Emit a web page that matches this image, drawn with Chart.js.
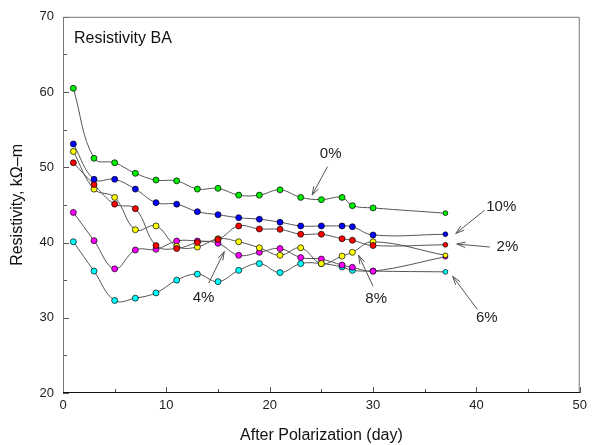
<!DOCTYPE html>
<html>
<head>
<meta charset="utf-8">
<script src="https://cdn.jsdelivr.net/npm/chart.js@4.4.0/dist/chart.umd.min.js"></script>
<style>
body{margin:0;background:#fff;}
#wrap{width:592px;height:445px;}
</style>
</head>
<body>
<div id="wrap"><canvas id="chart" width="592" height="445"></canvas></div>
<script>
// days after polarization
const days = [1,3,5,7,9,11,13,15,17,19,21,23,25,27,28,30,37];

// resistivity, kOhm-m, per mix
const pct0  = [60.5,51.2,50.6,49.2,48.3,48.2,47.1,47.2,46.3,46.3,47.0,46.0,45.7,46.0,44.9,44.6,43.9];
const pct2  = [50.6,47.7,45.1,44.5,39.6,39.2,40.0,40.4,42.2,41.8,41.75,41.1,41.1,40.5,40.3,39.6,39.7];
const pct4  = [44.0,40.25,36.5,39.0,39.1,40.2,40.2,39.9,38.3,38.7,39.2,38.0,37.8,37.0,36.7,36.2,38.1];
const pct6  = [40.1,36.2,32.3,32.6,33.3,35.0,35.8,34.8,36.3,37.2,36.0,37.2,37.2,36.75,36.3,36.2,36.1];
const pct8  = [52.1,47.1,46.0,41.7,42.2,39.5,39.4,40.5,40.1,39.3,38.3,39.3,37.2,38.2,38.7,40.1,38.3];
const pct10 = [53.1,48.4,48.4,47.1,45.3,45.1,44.1,43.7,43.3,43.1,42.7,42.2,42.2,42.2,42.1,41.0,41.1];

const xTicks = [0,10,20,30,40,50];
const yTicks = [20,30,40,50,60,70];

// callout labels: text position and arrow (from -> to), in data units
const callouts = [
    {text:"0%",  tx:25.9, ty:51.8, x1:25.6, y1:50.1, x2:24.1, y2:46.3},
    {text:"10%", tx:42.4, ty:44.7, x1:40.8, y1:44.3, x2:38.0, y2:41.2},
    {text:"2%",  tx:43.0, ty:39.4, x1:41.3, y1:39.4, x2:38.1, y2:39.8},
    {text:"6%",  tx:41.0, ty:30.0, x1:40.1, y1:31.1, x2:37.7, y2:35.5},
    {text:"4%",  tx:13.6, ty:32.7, x1:14.1, y1:34.6, x2:15.6, y2:38.8},
    {text:"8%",  tx:30.3, ty:32.5, x1:30.0, y1:34.2, x2:28.6, y2:38.3}
];

function series(values, color){
    return {
        data: days.map((d,i)=>({x:d, y:values[i]})),
        borderColor: "#555",
        borderWidth: 1,
        backgroundColor: color,
        pointBackgroundColor: color,
        pointBorderColor: "#000",
        pointBorderWidth: 0.7,
        pointRadius: ctx => ctx.dataIndex === days.length-1 ? 2.4 : 3.0,
        tension: 0.4,
        fill: false
    };
}

const innerTicks = {
    id: "innerTicks",
    afterDraw(chart){
        const c = chart.ctx;
        const xs = chart.scales.x, ys = chart.scales.y;
        const a = chart.chartArea;
        c.save();
        c.lineWidth = 1;
        c.strokeStyle = "#555";
        for(let v=0; v<=50; v+=5){
            const px = Math.round(xs.getPixelForValue(v))+0.5;
            const len = v%10===0 ? 6 : 4;
            c.beginPath(); c.moveTo(px,a.bottom); c.lineTo(px,a.bottom-len); c.stroke();
        }
        for(let v=20; v<=70; v+=5){
            const py = Math.round(ys.getPixelForValue(v))+0.5;
            const len = v%10===0 ? 6 : 4;
            c.beginPath(); c.moveTo(a.left,py); c.lineTo(a.left+len,py); c.stroke();
        }
        // frame
        c.strokeStyle = "#777";
        c.beginPath();
        c.moveTo(a.left+0.5,a.bottom); c.lineTo(a.left+0.5,a.top+0.5);
        c.lineTo(a.right-0.5,a.top+0.5); c.lineTo(a.right-0.5,a.bottom);
        c.stroke();
        c.strokeStyle = "#111";
        c.beginPath(); c.moveTo(a.left,a.bottom-0.5); c.lineTo(a.right,a.bottom-0.5); c.stroke();

        c.fillStyle = "#111";
        c.font = "16px 'Liberation Sans', Arial, sans-serif";
        c.textAlign = "left";
        c.textBaseline = "alphabetic";
        c.fillText("Resistivity BA", a.left+11, a.top+26);
        c.restore();
    }
};

const calloutPlugin = {
    id: "callouts",
    afterDatasetsDraw(chart){
        const c = chart.ctx;
        const xs = chart.scales.x, ys = chart.scales.y;
        c.save();
        c.font = "15px 'Liberation Sans', Arial, sans-serif";
        c.textAlign = "center";
        c.textBaseline = "middle";
        callouts.forEach(k => {
            c.fillStyle = "#222";
            c.fillText(k.text, xs.getPixelForValue(k.tx), ys.getPixelForValue(k.ty));
            const x1 = xs.getPixelForValue(k.x1), y1 = ys.getPixelForValue(k.y1);
            const x2 = xs.getPixelForValue(k.x2), y2 = ys.getPixelForValue(k.y2);
            c.strokeStyle = "#555";
            c.lineWidth = 1;
            c.beginPath(); c.moveTo(x1,y1); c.lineTo(x2,y2); c.stroke();
            const ang = Math.atan2(y2-y1, x2-x1);
            const h = 9, w = 0.3;
            c.beginPath();
            c.moveTo(x2 - h*Math.cos(ang-w), y2 - h*Math.sin(ang-w));
            c.lineTo(x2,y2);
            c.lineTo(x2 - h*Math.cos(ang+w), y2 - h*Math.sin(ang+w));
            c.stroke();
        });
        c.restore();
    }
};

new Chart(document.getElementById("chart"), {
    type: "line",
    data: {
        datasets: [
            series(pct0,  "#00ee00"),
            series(pct10, "#0000ff"),
            series(pct2,  "#ff0000"),
            series(pct8,  "#ffff00"),
            series(pct4,  "#ff00ff"),
            series(pct6,  "#00ffff")
        ]
    },
    options: {
        responsive: false,
        animation: false,
        events: [],
        layout: { padding: { top: 16, right: 12, left: 0, bottom: 0 } },
        plugins: { legend: { display: false }, tooltip: { enabled: false } },
        scales: {
            x: {
                type: "linear",
                min: 0, max: 50,
                afterBuildTicks: s => { s.ticks = xTicks.map(v=>({value:v})); },
                afterFit: s => { s.height = 52; },
                grid: { display: false, drawTicks: false },
                border: { display: false },
                ticks: { color: "#222", padding: 5, font: { size: 13, family: "'Liberation Sans', Arial, sans-serif" } },
                title: { display: true, text: "After Polarization (day)", color: "#111", padding: { top: 10, bottom: 0 },
                         font: { size: 16, family: "'Liberation Sans', Arial, sans-serif" } }
            },
            y: {
                min: 20, max: 70,
                afterBuildTicks: s => { s.ticks = yTicks.map(v=>({value:v})); },
                afterFit: s => { s.width = 63; },
                grid: { display: false, drawTicks: false },
                border: { display: false },
                ticks: { color: "#222", padding: 9, font: { size: 13, family: "'Liberation Sans', Arial, sans-serif" } },
                title: { display: true, text: "Resistivity, kΩ–m", color: "#111", padding: { top: 8, bottom: 0 },
                         font: { size: 16, family: "'Liberation Sans', Arial, sans-serif" } }
            }
        }
    },
    plugins: [innerTicks, calloutPlugin]
});
</script>
</body>
</html>
